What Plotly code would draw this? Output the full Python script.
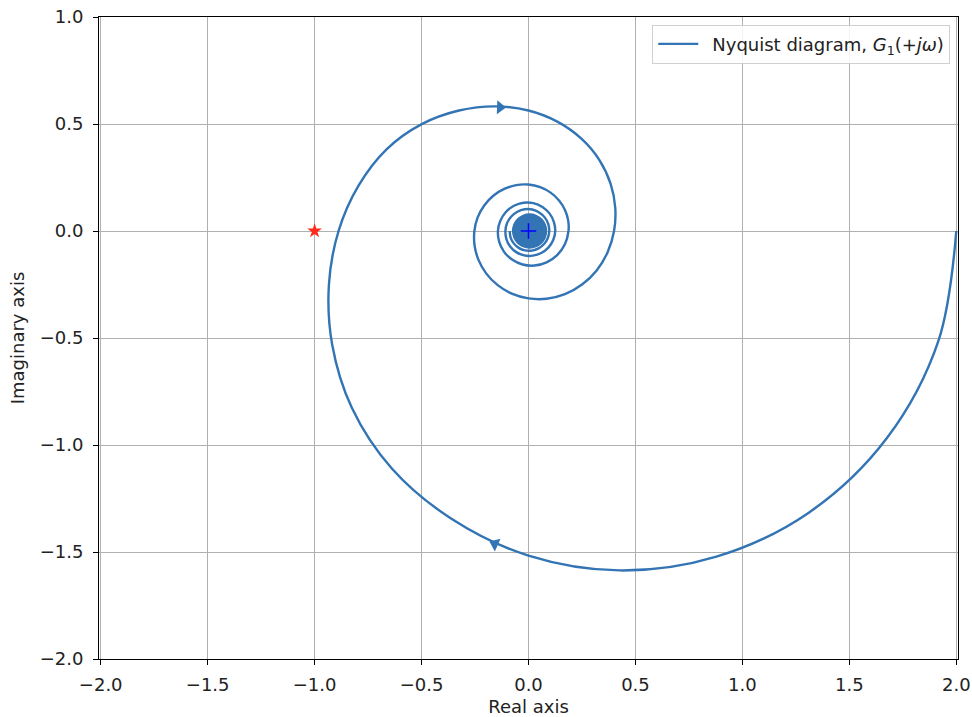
import numpy as np
import plotly.graph_objects as go

# Nyquist curve G1(+jω) in polar form around the origin,
# in order of increasing ω: phase (degrees, clockwise = negative) and magnitude
phase_deg = [0, -15, -30, -45, -60, -75, -90, -105, -120, -135,
             -150, -165, -180, -195, -210, -225, -240, -255, -270, -285,
             -300, -315, -330, -345, -360, -375, -390, -405, -420, -435,
             -450, -465, -480, -495, -510, -525, -540, -555, -570, -585,
             -600, -615, -630, -645, -660, -675, -690, -705, -720,
             -740, -760, -780, -800, -820, -840, -860, -880, -900, -920,
             -940, -960, -980, -1000, -1020, -1040, -1060, -1080, -1100, -1120,
             -1140, -1160, -1180, -1200, -1220, -1240, -1260, -1280, -1300, -1320,
             -1340, -1360, -1380, -1400, -1420, -1440, -1460, -1480, -1500, -1520,
             -1540, -1560, -1580, -1600, -1620]
magnitude = [2.000, 1.984, 1.935, 1.858, 1.757, 1.642, 1.517, 1.392, 1.280, 1.168,
             1.060, 0.966, 0.888, 0.822, 0.765, 0.706, 0.650, 0.603, 0.563, 0.528,
             0.497, 0.469, 0.443, 0.420, 0.400, 0.383, 0.368, 0.354, 0.341, 0.328,
             0.315, 0.303, 0.291, 0.280, 0.270, 0.261, 0.253, 0.246, 0.239, 0.233,
             0.227, 0.222, 0.217, 0.212, 0.207, 0.202, 0.197, 0.192, 0.187,
             0.181, 0.175, 0.169, 0.164, 0.159, 0.154, 0.150, 0.146, 0.143, 0.140,
             0.138, 0.136, 0.134, 0.132, 0.130, 0.128, 0.126, 0.125, 0.123, 0.121,
             0.119, 0.117, 0.116, 0.114, 0.112, 0.110, 0.108, 0.107, 0.105, 0.104,
             0.103, 0.102, 0.100, 0.099, 0.098, 0.097, 0.096, 0.095, 0.094, 0.093,
             0.092, 0.091, 0.090, 0.089, 0.088]

# dense core of the spiral (many overlapping turns), outline
core_re = [0.084, 0.078, 0.061, 0.035, 0.005, -0.025, -0.051, -0.068, -0.074,
           -0.068, -0.051, -0.025, 0.005, 0.035, 0.061, 0.078, 0.084]
core_im = [0.000, 0.030, 0.056, 0.073, 0.079, 0.073, 0.056, 0.030, 0.000,
           -0.030, -0.056, -0.073, -0.079, -0.073, -0.056, -0.030, 0.000]

# direction arrows on the curve
arrow_re = [-0.133, -0.157]
arrow_im = [0.578, -1.462]
arrow_angle = [92, 294]

# critical point and origin
crit_re = [-1.0]
crit_im = [0.0]
origin_re = [0.0]
origin_im = [0.0]

x_ticks = [-2.0, -1.5, -1.0, -0.5, 0.0, 0.5, 1.0, 1.5, 2.0]
x_labels = ["\u22122.0", "\u22121.5", "\u22121.0", "\u22120.5", "0.0", "0.5", "1.0", "1.5", "2.0"]
y_ticks = [-2.0, -1.5, -1.0, -0.5, 0.0, 0.5, 1.0]
y_labels = ["\u22122.0", "\u22121.5", "\u22121.0", "\u22120.5", "0.0", "0.5", "1.0"]

legend_label = "\u2002Nyquist diagram, <i>G</i><sub>1</sub>(+<i>jω</i>)"

line_color = "#3274b4"
font_family = "DejaVu Sans"
text_color = "#222222"
fsize = 18

# polar readings -> complex-plane coordinates
phi = np.radians(np.array(phase_deg, dtype=float))
mag = np.array(magnitude, dtype=float)
re_vals = mag * np.cos(phi)
im_vals = mag * np.sin(phi)

fig = go.Figure()

fig.add_trace(go.Scatter(
    x=core_re, y=core_im, mode="lines", fill="toself",
    fillcolor=line_color, line=dict(color=line_color, width=1.5, shape="spline"),
    showlegend=False, hoverinfo="skip"))

fig.add_trace(go.Scatter(
    x=re_vals, y=im_vals, mode="lines",
    line=dict(color=line_color, width=2.4, shape="spline", smoothing=1.0),
    name=legend_label))

fig.add_trace(go.Scatter(
    x=arrow_re, y=arrow_im, mode="markers",
    marker=dict(symbol="triangle-up", size=12, color=line_color,
                angle=arrow_angle, line=dict(width=0)),
    showlegend=False, hoverinfo="skip"))

fig.add_trace(go.Scatter(
    x=crit_re, y=crit_im, mode="markers",
    marker=dict(symbol="star", size=11, color="#ff2a1a", line=dict(width=0)),
    showlegend=False))

fig.add_trace(go.Scatter(
    x=origin_re, y=origin_im, mode="markers",
    marker=dict(symbol="cross-thin", size=11, color="#0000ff",
                line=dict(color="#0000ff", width=1.5)),
    showlegend=False))

axis_common = dict(
    showline=True, mirror=True, linecolor="black", linewidth=1,
    showgrid=True, gridcolor="#b0b0b0", gridwidth=1, zeroline=False,
    ticks="outside", ticklen=5, tickwidth=1, tickcolor="black",
    tickfont=dict(family=font_family, size=fsize, color=text_color),
    automargin=False,
)

fig.update_xaxes(
    range=[-2.008, 2.008], tickvals=x_ticks, ticktext=x_labels,
    ticklabelstandoff=4,
    title=dict(text="Real axis", font=dict(family=font_family, size=fsize, color=text_color),
               standoff=8),
    **axis_common)
fig.update_yaxes(
    range=[-2.0, 1.0], tickvals=y_ticks, ticktext=y_labels,
    ticklabelstandoff=6,
    title=dict(text="Imaginary axis", font=dict(family=font_family, size=fsize, color=text_color),
               standoff=10),
    **axis_common)

fig.update_layout(
    width=972, height=717,
    margin=dict(l=99, r=14, t=17, b=58),
    paper_bgcolor="white", plot_bgcolor="white",
    font=dict(family=font_family, size=fsize, color=text_color),
    legend=dict(x=0.991, y=0.988, xanchor="right", yanchor="top",
                bgcolor="rgba(255,255,255,0.85)", bordercolor="#d0d0d0", borderwidth=1,
                itemwidth=40,
                font=dict(family=font_family, size=fsize, color=text_color)),
    showlegend=True,
)

fig.write_html("out.html")
